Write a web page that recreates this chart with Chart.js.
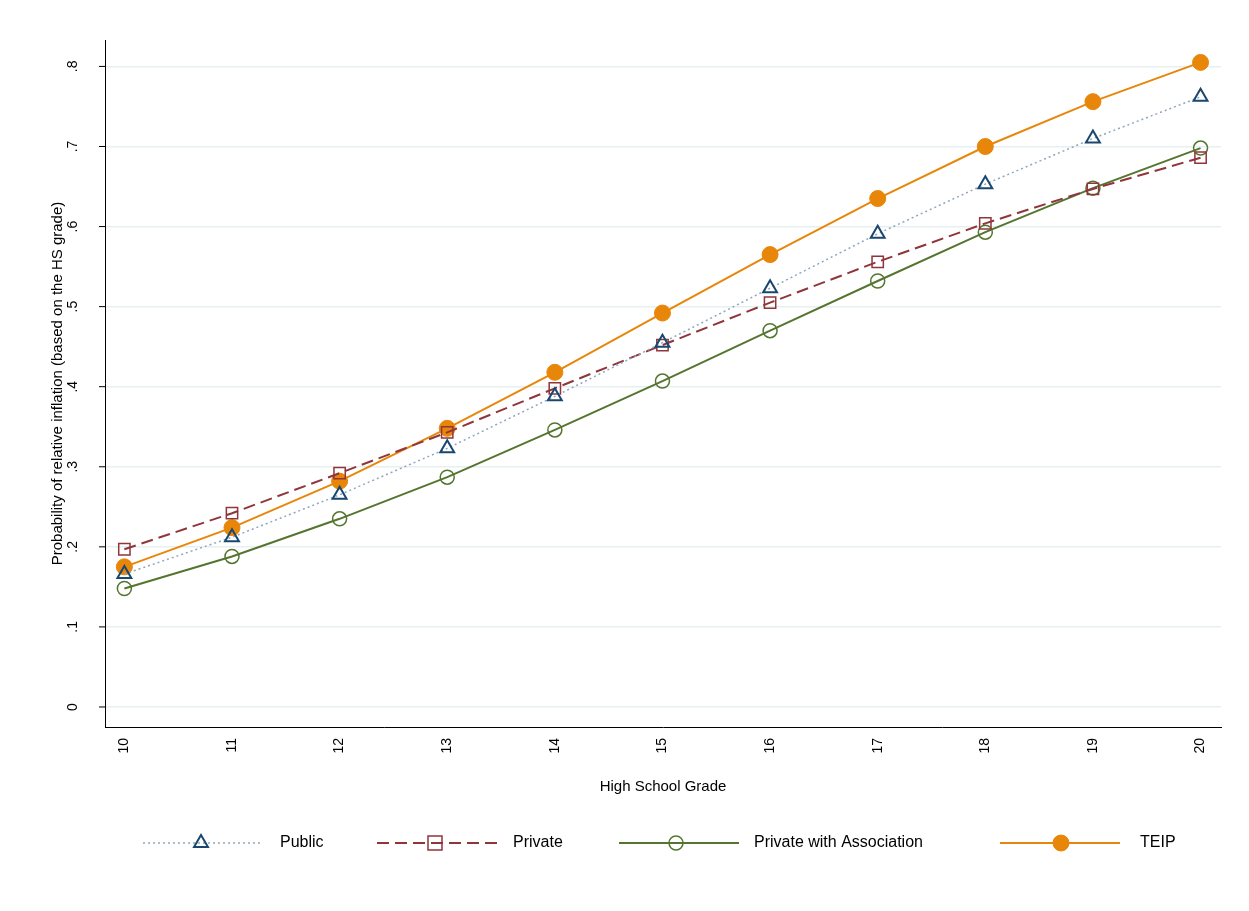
<!DOCTYPE html>
<html><head><meta charset="utf-8">
<script src="https://cdn.jsdelivr.net/npm/chart.js@4"></script>
<style>html,body{margin:0;padding:0;background:#fff}#w{width:1249px;height:911px}</style>
</head><body><div id="w"><canvas id="c" width="1249" height="911"></canvas></div>
<script>
const grades = [10,11,12,13,14,15,16,17,18,19,20];
const publicVals = [0.166,0.212,0.265,0.323,0.388,0.455,0.523,0.591,0.653,0.710,0.762];
const privateVals = [0.197,0.242,0.292,0.343,0.398,0.452,0.505,0.556,0.604,0.647,0.686];
const pwaVals = [0.148,0.188,0.235,0.287,0.346,0.407,0.470,0.532,0.593,0.648,0.698];
const teipVals = [0.175,0.224,0.282,0.348,0.418,0.492,0.565,0.635,0.700,0.756,0.805];
const yTicks = [0,0.1,0.2,0.3,0.4,0.5,0.6,0.7,0.8];
const yTickLabels = ["0",".1",".2",".3",".4",".5",".6",".7",".8"];
const names = ["Public","Private","Private with Association","TEIP"];

const FONT = "'Liberation Sans', Arial, sans-serif";
const sets = [
 {label:names[0],data:publicVals,borderColor:'#8fa6bf',borderDash:[2,3],borderWidth:1.5,pointStyle:'triangle',pointRadius:8,pointBorderColor:'#1a476f',pointBackgroundColor:'rgba(0,0,0,0)',pointBorderWidth:2},
 {label:names[1],data:privateVals,borderColor:'#90353b',borderDash:[12,6],borderWidth:2,pointStyle:'rect',pointRadius:8,pointBorderColor:'#90353b',pointBackgroundColor:'rgba(0,0,0,0)',pointBorderWidth:1.5},
 {label:names[2],data:pwaVals,borderColor:'#55752f',borderWidth:2,pointStyle:'circle',pointRadius:7,pointBorderColor:'#55752f',pointBackgroundColor:'rgba(0,0,0,0)',pointBorderWidth:1.5},
 {label:names[3],data:teipVals,borderColor:'#e8860a',borderWidth:2,pointStyle:'circle',pointRadius:8,pointBorderColor:'#e8860a',pointBackgroundColor:'#e8860a',pointBorderWidth:1}
];
sets.forEach(s=>{s.data=s.data.map((v,i)=>({x:grades[i],y:v}));s.fill=false;s.tension=0;});

const deco = {id:'deco',afterDraw(ch){
 const c=ch.ctx, y=ch.scales.y, a=ch.chartArea;
 c.save(); c.fillStyle='#000'; c.font='14px '+FONT;
 yTicks.forEach((v,i)=>{const p=y.getPixelForValue(v);
  c.save(); c.translate(80,p); c.rotate(-Math.PI/2); c.textAlign='center'; c.textBaseline='bottom'; c.fillText(yTickLabels[i],0,0); c.restore();
  c.strokeStyle='#000'; c.lineWidth=1; c.beginPath(); c.moveTo(a.left-6,p); c.lineTo(a.left,p); c.stroke();});
 c.save(); c.translate(58,(a.top+a.bottom)/2); c.rotate(-Math.PI/2); c.textAlign='center'; c.textBaseline='middle';
 c.font='15px '+FONT; c.fillText('Probability of relative inflation (based on the HS grade)',0,0); c.restore();
 c.font='15px '+FONT; c.textAlign='center'; c.textBaseline='middle'; c.fillText('High School Grade',(a.left+a.right)/2,787);
 const L=[[143,263,201,280],[377,497,435,513],[619,739,676,754],[1000,1120,1061,1140]];
 sets.forEach((s,i)=>{const [x0,x1,m,t]=L[i], yy=843;
  c.strokeStyle=s.borderColor; c.lineWidth=s.borderWidth; c.setLineDash(s.borderDash||[]);
  c.beginPath(); c.moveTo(x0,yy); c.lineTo(x1,yy); c.stroke(); c.setLineDash([]);
  c.strokeStyle=s.pointBorderColor; c.fillStyle=s.pointBackgroundColor; c.lineWidth=s.pointBorderWidth;
  c.beginPath();
  if(s.pointStyle==='circle'){c.arc(m,yy,s.pointRadius,0,Math.PI*2);}
  else if(s.pointStyle==='rect'){c.rect(m-7,yy-7,14,14);}
  else {const r=s.pointRadius; c.moveTo(m,yy-r); c.lineTo(m+r*0.87,yy+r*0.5); c.lineTo(m-r*0.87,yy+r*0.5); c.closePath();}
  c.fill(); c.stroke();
  c.fillStyle='#000'; c.font='16px '+FONT; c.textAlign='left'; c.fillText(s.label,t,yy);});
 c.restore();
}};

new Chart(document.getElementById('c'),{
 type:'line',
 data:{datasets:sets},
 options:{responsive:false,animation:false,
  layout:{padding:{top:40,right:28,left:0,bottom:0}},
  plugins:{legend:{display:false},tooltip:{enabled:false}},
  scales:{
   x:{type:'linear',min:9.82,max:20.19,
     afterBuildTicks(s){s.ticks=grades.map(v=>({value:v}));},
     afterFit(s){s.height=184;},
     grid:{display:false,drawOnChartArea:false,drawTicks:true,tickLength:7,tickColor:'#000'},
     border:{display:true,color:'#000',width:1},
     ticks:{minRotation:90,maxRotation:90,color:'#000',font:{size:14,family:FONT},padding:4,callback:v=>String(v)}},
   y:{type:'linear',min:-0.025,max:0.833,
     afterBuildTicks(s){s.ticks=yTicks.map(v=>({value:v}));},
     afterFit(s){s.width=105;},
     grid:{color:'#e6eff1',lineWidth:1.5,drawTicks:false},
     border:{display:true,color:'#000',width:1},
     ticks:{callback:()=>'' ,padding:0}}
  }},
 plugins:[deco]
});
</script></body></html>
